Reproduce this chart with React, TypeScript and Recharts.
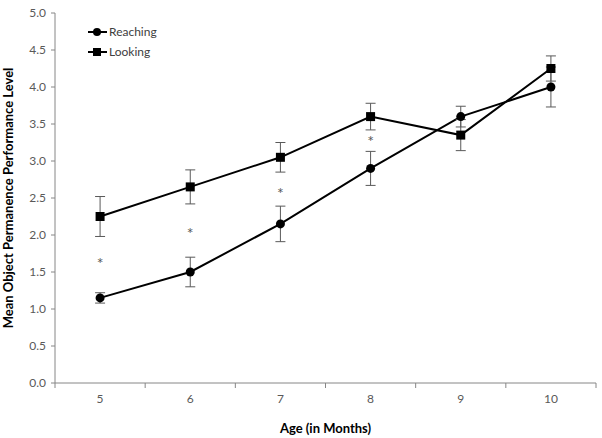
import { ComposedChart, Line, Scatter, XAxis, YAxis, ErrorBar, Label } from "recharts";

const ages = [5, 6, 7, 8, 9, 10];
const reaching = [1.15, 1.5, 2.15, 2.9, 3.6, 4.0];
const reachingErr = [0.07, 0.2, 0.24, 0.23, 0.14, 0.27];
const looking = [2.25, 2.65, 3.05, 3.6, 3.35, 4.25];
const lookingErr = [0.27, 0.23, 0.2, 0.18, 0.21, 0.17];
const stars = [1.65, 2.05, 2.6, 3.3, null, null];
const yTicks = [0, 0.5, 1, 1.5, 2, 2.5, 3, 3.5, 4, 4.5, 5];

const data = ages.map((age, i) => ({
  age,
  reaching: reaching[i],
  reachingErr: reachingErr[i],
  looking: looking[i],
  lookingErr: lookingErr[i],
  star: stars[i],
}));

const W = 602;
const H = 438;
const M = { top: 13, right: 6, bottom: 25, left: 0 };
const Y_W = 55;
const HALF = (W - M.right - Y_W) / ages.length / 2;
const FONT = "Lato, 'Open Sans', sans-serif";
const GRAY = "#595959";
const AXIS = "#868686";

const XTick = (props: any) => {
  const { x, y, payload, index } = props;
  const last = index === ages.length - 1;
  return (
    <g>
      <line x1={x - HALF} x2={x - HALF} y1={y - 8} y2={y - 3} stroke={AXIS} />
      {last && <line x1={x + HALF} x2={x + HALF} y1={y - 8} y2={y - 3} stroke={AXIS} />}
      <text x={x} y={y + 12} textAnchor="middle" fill={GRAY} fontSize={12} fontFamily={FONT}>
        {payload.value}
      </text>
    </g>
  );
};

const Star = (props: any) => {
  const { cx, cy, payload } = props;
  if (payload.star == null) return <g />;
  return (
    <text x={cx} y={cy + 8} textAnchor="middle" fill={GRAY} fontSize={16} fontFamily={FONT}>
      *
    </text>
  );
};

const LegendBox = () => {
  const items = [
    { name: "Reaching", shape: "circle" },
    { name: "Looking", shape: "square" },
  ];
  return (
    <svg width={110} height={44} style={{ position: "absolute", left: 86, top: 22 }}>
      {items.map((it, i) => {
        const cy = 10 + i * 20;
        return (
          <g key={it.name}>
            <line x1={2} x2={21} y1={cy} y2={cy} stroke="#000" strokeWidth={2} />
            {it.shape === "circle" ? (
              <circle cx={11} cy={cy} r={4} fill="#000" />
            ) : (
              <rect x={7} y={cy - 4} width={8} height={8} fill="#000" />
            )}
            <text x={23} y={cy + 4} fill="#404040" fontSize={12} fontFamily={FONT}>
              {it.name}
            </text>
          </g>
        );
      })}
    </svg>
  );
};

const Square = (props: any) => {
  const { cx, cy } = props;
  return <rect x={cx - 4.5} y={cy - 4.5} width={9} height={9} fill="#000" />;
};

export default function App() {
  return (
    <div style={{ position: "absolute", left: 0, top: 0, width: W, height: H, background: "#fff" }}>
      <ComposedChart width={W} height={H} data={data} margin={M}>
        <XAxis
          dataKey="age"
          type="number"
          domain={[4.5, 10.5]}
          ticks={ages}
          tickLine={false}
          axisLine={{ stroke: AXIS }}
          tick={<XTick />}
          height={30}
          interval={0}
        >
          <Label
            value="Age (in Months)"
            position="insideBottom"
            offset={-20}
            style={{ fontFamily: FONT, fontWeight: 700, fontSize: 13, fill: "#000" }}
          />
        </XAxis>
        <YAxis
          domain={[0, 5]}
          ticks={yTicks}
          width={Y_W}
          tickFormatter={(v: number) => v.toFixed(1)}
          tick={{ fill: GRAY, fontSize: 12, fontFamily: FONT }}
          tickSize={4}
          tickMargin={5}
          axisLine={{ stroke: AXIS }}
          tickLine={{ stroke: AXIS }}
        >
          <Label
            value="Mean Object Permanence Performance Level"
            angle={-90}
            position="insideLeft"
            offset={8}
            style={{ textAnchor: "middle", fontFamily: FONT, fontWeight: 700, fontSize: 13, fill: "#000" }}
          />
        </YAxis>
        <Line
          dataKey="reaching"
          stroke="#000"
          strokeWidth={2}
          dot={{ r: 4.5, fill: "#000", stroke: "#000", strokeWidth: 0 }}
          isAnimationActive={false}
        >
          <ErrorBar dataKey="reachingErr" width={5} stroke={GRAY} strokeWidth={1} direction="y" />
        </Line>
        <Line
          dataKey="looking"
          stroke="#000"
          strokeWidth={2}
          dot={<Square />}
          isAnimationActive={false}
        >
          <ErrorBar dataKey="lookingErr" width={5} stroke={GRAY} strokeWidth={1} direction="y" />
        </Line>
        <Scatter dataKey="star" shape={<Star />} isAnimationActive={false} />
      </ComposedChart>
      <LegendBox />
    </div>
  );
}
